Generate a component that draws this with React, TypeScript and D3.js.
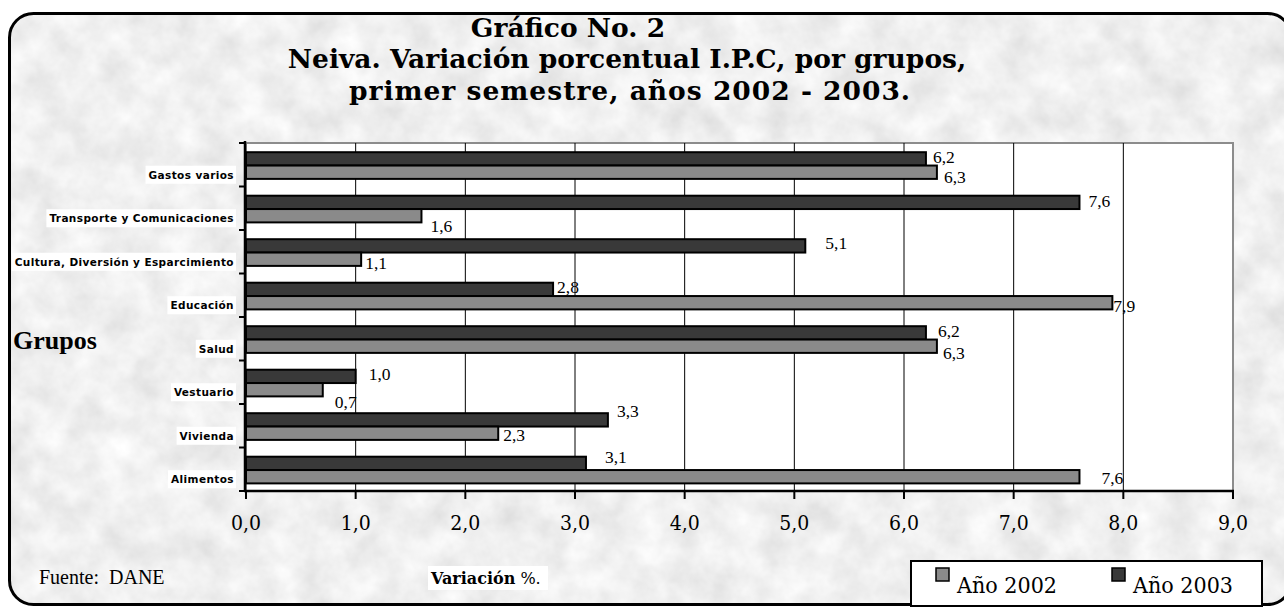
import React from "react";
import * as d3 from "d3";

const categories = [
  "Gastos varios",
  "Transporte y Comunicaciones",
  "Cultura, Diversión y Esparcimiento",
  "Educación",
  "Salud",
  "Vestuario",
  "Vivienda",
  "Alimentos",
];
const values2003 = [6.2, 7.6, 5.1, 2.8, 6.2, 1.0, 3.3, 3.1];
const values2002 = [6.3, 1.6, 1.05, 7.9, 6.3, 0.7, 2.3, 7.6];
const seriesNames = ["Año 2002", "Año 2003"];
const xTicks = [0, 1, 2, 3, 4, 5, 6, 7, 8, 9];
const titleLines = [
  "Gráfico No. 2",
  "Neiva. Variación porcentual I.P.C, por grupos,",
  "primer semestre, años 2002 - 2003.",
];
// label placement nudges [dx from bar end, dy from bar centre]
const labelNudge2003 = [[7, 4], [9, 5], [20, 3], [4, 4], [12, 4], [13, 4], [9, -3], [19, 0]];
const labelNudge2002 = [[7, 11], [9, 16], [4, 10], [1, 9], [6, 13], [12, 18], [5, 8], [22, 7]];

const W = 1284;
const H = 608;
const plot = { left: 246, right: 1233, top: 143, bottom: 491 };
const C2002 = "#8a8a8a";
const C2003 = "#393939";
const fmt = (v: number) => d3.format(".1f")(v).replace(".", ",");

export default function App() {
  const x = d3.scaleLinear().domain([0, 9]).range([plot.left, plot.right]);
  const y = d3.scaleBand<string>().domain(categories).range([plot.top, plot.bottom]);
  const bw = y.bandwidth();
  const sub = d3
    .scaleBand<string>()
    .domain(["2003", "2002"])
    .range([0, bw])
    .paddingInner(0)
    .paddingOuter(0.63);
  const bh = sub.bandwidth();

  const serif = "'Liberation Serif', 'Times New Roman', serif";
  const century = "'DejaVu Serif', serif";

  return (
    <svg
      width={W}
      height={H}
      style={{ position: "absolute", left: 0, top: 0 }}
      xmlns="http://www.w3.org/2000/svg"
    >
      <defs>
        <filter id="marble" x="0" y="0" width="100%" height="100%">
          <feTurbulence type="fractalNoise" baseFrequency="0.03" numOctaves="4" seed="7" />
          <feColorMatrix
            type="matrix"
            values="0.32 0 0 0 0.71  0.32 0 0 0 0.71  0.32 0 0 0 0.71  0 0 0 0 1"
          />
        </filter>
        <clipPath id="frame">
          <rect x={9.5} y={13.5} width={1282} height={591} rx={24} />
        </clipPath>
      </defs>
      <rect width={W} height={H} fill="#fff" />
      <g clipPath="url(#frame)">
        <rect x={0} y={0} width={W} height={H} fill="#e2e2e2" filter="url(#marble)" />
      </g>
      <rect x={9.5} y={13.5} width={1282} height={591} rx={24} fill="none" stroke="#000" strokeWidth={3} />

      {/* title */}
      <g fontFamily={century} fontWeight="bold" fontSize={26.5} fill="#000" textAnchor="middle">
        <text x={568} y={37}>{titleLines[0]}</text>
        <text x={627} y={68}>{titleLines[1]}</text>
        <text x={630} y={100} letterSpacing={1}>{titleLines[2]}</text>
      </g>

      {/* plot area */}
      <rect
        x={plot.left}
        y={plot.top}
        width={plot.right - plot.left}
        height={plot.bottom - plot.top}
        fill="#fff"
        stroke="#8c8c8c"
        strokeWidth={2}
      />
      {xTicks.slice(1, -1).map((t) => (
        <line key={t} x1={x(t)} x2={x(t)} y1={plot.top} y2={plot.bottom} stroke="#000" strokeWidth={1} />
      ))}

      {/* bars */}
      {categories.map((c, i) => {
        const y0 = (y(c) ?? 0) + 0.8;
        return (
          <g key={c}>
            <rect
              x={x(0)}
              y={y0 + (sub("2003") ?? 0)}
              width={x(values2003[i]) - x(0)}
              height={bh}
              fill={C2003}
              stroke="#000"
              strokeWidth={2}
            />
            <rect
              x={x(0)}
              y={y0 + (sub("2002") ?? 0)}
              width={x(values2002[i]) - x(0)}
              height={bh}
              fill={C2002}
              stroke="#000"
              strokeWidth={2}
            />
          </g>
        );
      })}

      {/* data labels */}
      <g fontFamily={serif} fontSize={17.5} fill="#000">
        {categories.map((c, i) => {
          const y0 = (y(c) ?? 0) + 0.8;
          const c3 = y0 + (sub("2003") ?? 0) + bh / 2;
          const c2 = y0 + (sub("2002") ?? 0) + bh / 2;
          return (
            <g key={c}>
              <text x={x(values2003[i]) + labelNudge2003[i][0]} y={c3 + labelNudge2003[i][1]}>
                {fmt(values2003[i])}
              </text>
              <text x={x(values2002[i]) + labelNudge2002[i][0]} y={c2 + labelNudge2002[i][1]}>
                {fmt(values2002[i])}
              </text>
            </g>
          );
        })}
      </g>

      {/* axes */}
      <line x1={plot.left - 1} x2={plot.left - 1} y1={plot.top - 2} y2={plot.bottom + 1} stroke="#000" strokeWidth={2.5} />
      {[...categories.map((c) => y(c) ?? 0), plot.bottom].map((v, i) => (
        <line key={i} x1={plot.left - 7} x2={plot.left} y1={v} y2={v} stroke="#000" strokeWidth={2} />
      ))}
      <line x1={plot.left - 2} x2={plot.right + 1} y1={plot.bottom} y2={plot.bottom} stroke="#000" strokeWidth={2.5} />
      {xTicks.map((t) => (
        <line key={t} x1={x(t)} x2={x(t)} y1={plot.bottom} y2={plot.bottom + 8} stroke="#000" strokeWidth={2} />
      ))}
      <g fontFamily={century} fontSize={21} fill="#000" textAnchor="middle" style={{ fontStretch: "condensed" }}>
        {xTicks.map((t) => (
          <text key={t} x={x(t)} y={530}>
            {fmt(t)}
          </text>
        ))}
      </g>

      {/* category labels */}
      {categories.map((c) => {
        const cy = (y(c) ?? 0) + bw / 2 + 10;
        return (
          <g key={c}>
            <CatLabel text={c} x={234} y={cy} />
          </g>
        );
      })}

      <text x={13} y={349} fontFamily={serif} fontWeight="bold" fontSize={26}>
        Grupos
      </text>

      <text x={39} y={584} fontFamily={serif} fontSize={20}>
        Fuente:{"\u00a0\u00a0"}DANE
      </text>

      <rect x={428} y={566} width={120} height={24} fill="#fff" />
      <text x={431} y={584} fontFamily={century} fontSize={16}>
        <tspan fontWeight="bold">Variación</tspan> %.
      </text>

      {/* legend */}
      <rect x={911} y={561} width={351} height={45} fill="#fff" stroke="#000" strokeWidth={2} />
      {seriesNames.map((s, i) => (
        <g key={s} transform={`translate(${936 + i * 176},0)`}>
          <rect x={0} y={568} width={13} height={13} fill={i === 0 ? C2002 : C2003} stroke="#000" strokeWidth={1.5} />
          <text x={21} y={593} fontFamily={century} fontSize={23} style={{ fontStretch: "condensed" }}>
            {s}
          </text>
        </g>
      ))}
    </svg>
  );
}

function CatLabel({ text, x, y }: { text: string; x: number; y: number }) {
  const ref = React.useRef<SVGTextElement>(null);
  const [w, setW] = React.useState(0);
  React.useLayoutEffect(() => {
    if (ref.current) setW(ref.current.getComputedTextLength());
  }, [text]);
  return (
    <g>
      <rect x={x - w - 3} y={y - 9} width={w + 5} height={18} fill="#fff" />
      <text
        ref={ref}
        x={x}
        y={y + 4}
        textAnchor="end"
        fontFamily="'DejaVu Sans', sans-serif"
        fontWeight="bold"
        fontSize={10.5}
        letterSpacing={0.4}
      >
        {text}
      </text>
    </g>
  );
}
